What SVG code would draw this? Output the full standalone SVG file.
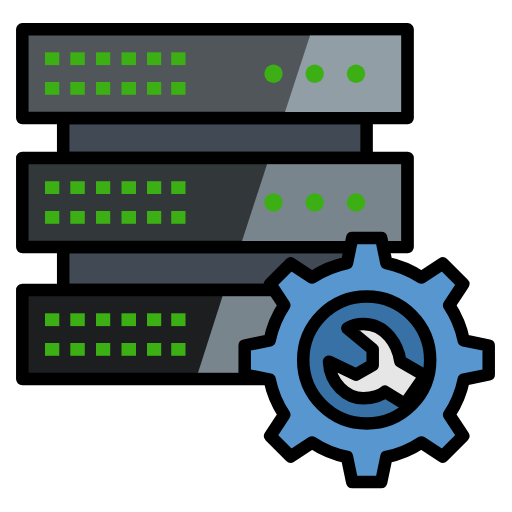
<svg xmlns="http://www.w3.org/2000/svg" width="512" height="512" viewBox="0 0 512 512">
<style>
.k{stroke:#000;stroke-width:12.5;stroke-linejoin:round;stroke-linecap:round}
.n{fill:#414955}
.o{fill:none}
.l{fill:#78858c}
.s rect,rect.s{fill:#3caf14}
.d{fill:#3caf14}
</style>
<defs>
<g id="sq" class="s">
<rect x="45" y="0" width="14.3" height="12.8"/><rect x="70.3" y="0" width="14.5" height="12.8"/><rect x="96" y="0" width="14.2" height="12.8"/><rect x="121.5" y="0" width="14.5" height="12.8"/><rect x="147" y="0" width="14.2" height="12.8"/><rect x="171.2" y="0" width="14.3" height="12.8"/>
</g>
<g id="dots"><circle class="d" cx="273.5" cy="0" r="9.2"/><circle class="d" cx="314.7" cy="0" r="9.2"/><circle class="d" cx="356" cy="0" r="9.2"/></g>
</defs>
<g id="connectors">
<rect class="n k" x="63.2" y="118" width="303.4" height="40"/>
<rect class="n k" x="63.2" y="247" width="303.4" height="43"/>
</g>
<g id="server-1">
<rect x="22.3" y="29.3" width="385.3" height="88.7" fill="#51565a" class="k"/>
<path d="M310 35.5H401V112H285Z" fill="#919ea6"/>
<use href="#sq" y="52.3"/><use href="#sq" y="82"/>
<use href="#dots" y="73.7"/>
</g>
<g id="server-2">
<rect x="22.3" y="158" width="385.3" height="89" fill="#32373a" class="k"/>
<path d="M267 164.300H401V241H242Z" class="l"/>
<use href="#sq" y="181.200"/><use href="#sq" y="211"/>
<use href="#dots" y="202.500"/>
</g>
<g id="server-3">
<rect x="22.3" y="290" width="385.3" height="89" fill="#1c1e20" class="k"/>
<path d="M222.500 296.300H401V372.800H198Z" class="l"/>
<use href="#sq" y="313.300"/><use href="#sq" y="343"/>
</g>
<g id="gear">
<path class="k" fill="#5796cf" transform="translate(366.7 360)" d="M-14.500-122H14.500L19.700-97A99 99 0 0 1 54.700-82.500L76-96.500 96.500-76 82.500-54.700A99 99 0 0 1 97-19.700L122-14.500V14.500L97 19.700A99 99 0 0 1 82.500 54.700L96.500 76 76 96.500 54.700 82.500A99 99 0 0 1 19.700 97L14.500 122H-14.500L-19.700 97A99 99 0 0 1-54.700 82.500L-76 96.500-96.500 76-82.500 54.700A99 99 0 0 1-97 19.700L-122 14.500V-14.500L-97-19.700A99 99 0 0 1-82.500-54.700L-96.500-76-76-96.500-54.700-82.500A99 99 0 0 1-19.700-97Z"/>
<circle cx="366.7" cy="360" r="63.500" fill="#3771a5"/>
<path class="k" fill="#e6e6e6" d="M425 375.700L400.300 361.300C398 345 386 324 363.300 324C356 324 351 326 347.300 328.300L372.700 349.300V365L356 374.700L329 361.700C330 383.300 346.700 398.300 363.300 398.300C373.300 398.300 381.700 395 385 391.700L405 404Z"/>
<circle cx="366.7" cy="360" r="63.500" class="k o"/>
</g>
</svg>
